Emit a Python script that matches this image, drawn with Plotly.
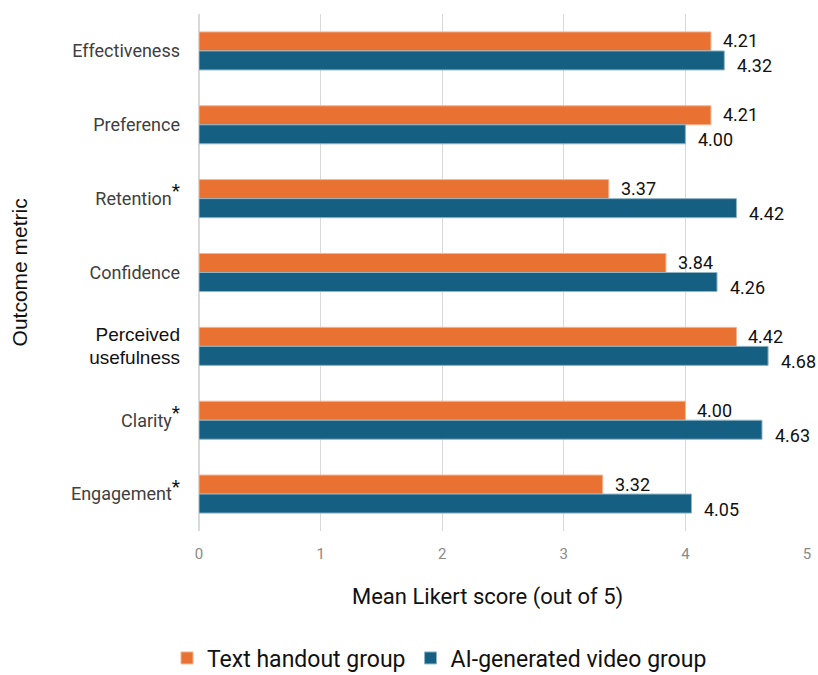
import plotly.graph_objects as go

categories = ["Effectiveness", "Preference", "Retention", "Confidence",
              "Perceived usefulness", "Clarity", "Engagement"]
significant = [False, False, True, False, False, True, True]
text_handout = [4.21, 4.21, 3.37, 3.84, 4.42, 4.00, 3.32]
ai_video = [4.32, 4.00, 4.42, 4.26, 4.68, 4.63, 4.05]
series_names = ["Text handout group", "AI-generated video group"]
x_ticks = [0, 1, 2, 3, 4, 5]

ORANGE = "#E97132"
BLUE = "#156082"

def tick_label(name, star):
    if name == "Perceived usefulness":
        return "<span style='color:#111;font-family:Liberation Sans;font-size:19px'>Perceived<br>usefulness</span>"
    if star:
        return name + "<sup><span style='font-size:19px;color:#111'>*</span></sup>"
    return name

tick_text = [tick_label(c, s) for c, s in zip(categories, significant)]

fig = go.Figure()
fig.add_trace(go.Bar(y=categories, x=text_handout, orientation="h", name=series_names[0],
                     marker=dict(color=ORANGE, line=dict(color="#f4b48e", width=1))))
fig.add_trace(go.Bar(y=categories, x=ai_video, orientation="h", name=series_names[1],
                     marker=dict(color=BLUE, line=dict(color="#8fb4c6", width=1))))

annotations = []
for c, v in zip(categories, text_handout):
    annotations.append(dict(x=v, y=c, xref="x", yref="y", text=f"{v:.2f}", showarrow=False,
                            xanchor="left", yanchor="middle", xshift=10, yshift=10,
                            font=dict(family="Roboto", size=18, color="#111")))
for c, v in zip(categories, ai_video):
    annotations.append(dict(x=v, y=c, xref="x", yref="y", text=f"{v:.2f}", showarrow=False,
                            xanchor="left", yanchor="middle", xshift=11, yshift=-15,
                            font=dict(family="Roboto", size=18, color="#111")))
annotations.append(dict(x=-0.2945, y=0.5, xref="paper", yref="paper", text="Outcome metric",
                        textangle=-90, showarrow=False, xanchor="center", yanchor="middle",
                        font=dict(family="Liberation Sans", size=21, color="#111")))
annotations.append(dict(x=(487 - 199) / 608, y=-(597 - 531) / 517, xref="paper", yref="paper",
                        text="Mean Likert score (out of 5)", showarrow=False,
                        xanchor="center", yanchor="middle",
                        font=dict(family="Roboto", size=22, color="#111")))

fig.update_layout(
    width=818, height=675,
    margin=dict(l=199, r=11, t=14, b=144),
    paper_bgcolor="white", plot_bgcolor="white",
    barmode="group", bargap=0.485, bargroupgap=0,
    font=dict(family="Roboto", color="#404040"),
    annotations=annotations,
    legend=dict(orientation="h", xref="container", x=167 / 818, xanchor="left",
                yref="container", y=(675 - 658) / 675, yanchor="middle",
                font=dict(family="Roboto", size=23, color="#111"), traceorder="normal",
                itemwidth=30),
    showlegend=True,
)
fig.update_xaxes(range=[0, 5], tickvals=x_ticks, showgrid=True, gridcolor="#d9d9d9", gridwidth=1,
                 zeroline=True, zerolinecolor="#d9d9d9", showline=False, ticks="",
                 automargin=False,
                 tickfont=dict(family="Roboto", size=15, color="#8a8a8a"), ticklabelstandoff=12)
fig.update_yaxes(categoryorder="array", categoryarray=categories, autorange="reversed",
                 tickvals=categories, ticktext=tick_text, ticks="", showgrid=False,
                 automargin=False,
                 tickfont=dict(family="Roboto", size=18, color="#404040"), ticklabelstandoff=18)

fig.write_html("out.html")
